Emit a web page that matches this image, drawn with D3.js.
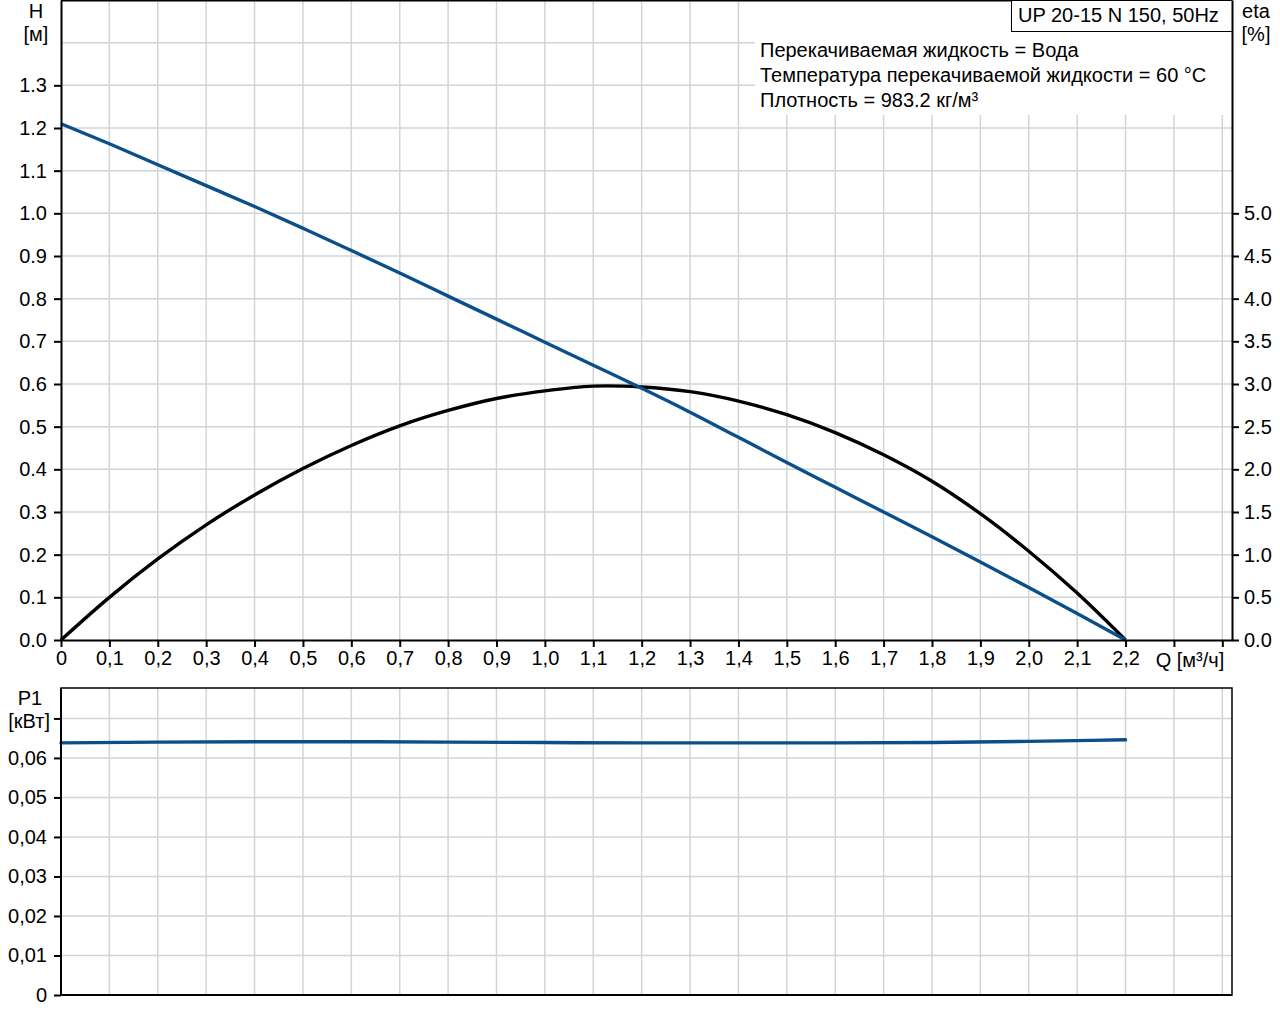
<!DOCTYPE html>
<html>
<head>
<meta charset="utf-8">
<script src="https://cdn.jsdelivr.net/npm/d3@7"></script>
<style>
  body { margin: 0; background: #fff; }
  text { font-family: "Liberation Sans", Arial, sans-serif; font-size: 20px; fill: #000; }
</style>
</head>
<body>
<div id="chart"></div>
<script>
'use strict'

// flow points, m3/h
const flow = [0, 0.1, 0.2, 0.3, 0.4, 0.5, 0.6, 0.7, 0.8, 0.9, 1.0, 1.1,
              1.2, 1.3, 1.4, 1.5, 1.6, 1.7, 1.8, 1.9, 2.0, 2.1, 2.2];
// head, m
const head = [1.21, 1.163, 1.114, 1.065, 1.016, 0.965, 0.913, 0.860, 0.806, 0.752, 0.698, 0.644,
              0.590, 0.534, 0.475, 0.416, 0.358, 0.300, 0.242, 0.183, 0.123, 0.062, 0];
// efficiency, %
const eta = [0, 0.50, 0.95, 1.35, 1.70, 2.01, 2.28, 2.51, 2.69, 2.83, 2.92, 2.975,
             2.965, 2.91, 2.80, 2.64, 2.43, 2.17, 1.86, 1.48, 1.04, 0.55, 0];
// power input, kW
const powerFlow = [0, 0.2, 0.4, 0.6, 0.8, 1.0, 1.2, 1.4, 1.6, 1.8, 2.0, 2.2];
const power = [0.0638, 0.0640, 0.0641, 0.0641, 0.0640, 0.0639, 0.0638, 0.0638, 0.0638, 0.0639, 0.0642, 0.0646];

const flowTicks = [0, 0.1, 0.2, 0.3, 0.4, 0.5, 0.6, 0.7, 0.8, 0.9, 1.0, 1.1, 1.2,
                   1.3, 1.4, 1.5, 1.6, 1.7, 1.8, 1.9, 2.0, 2.1, 2.2, 2.3, 2.4];
const headTicks = [0, 0.1, 0.2, 0.3, 0.4, 0.5, 0.6, 0.7, 0.8, 0.9, 1.0, 1.1, 1.2, 1.3];
const headGrid = [0.1, 0.2, 0.3, 0.4, 0.5, 0.6, 0.7, 0.8, 0.9, 1.0, 1.1, 1.2, 1.3, 1.4];
const etaTicks = [0, 0.5, 1.0, 1.5, 2.0, 2.5, 3.0, 3.5, 4.0, 4.5, 5.0];
const powerTicks = [0, 0.01, 0.02, 0.03, 0.04, 0.05, 0.06, 0.07];

const title = 'UP 20-15 N 150, 50Hz';
const infoLines = ['Перекачиваемая жидкость = Вода',
                   'Температура перекачиваемой жидкости = 60 °C',
                   'Плотность = 983.2 кг/м³'];

const blue = '#0b4f8a';
const gridColor = '#d2d4d6';

const svg = d3.select('#chart')
    .append('svg')
    .attr('width', 1280)
    .attr('height', 1024);

const x = d3.scaleLinear().domain([0, 2.42]).range([61, 1232]);
const yH = d3.scaleLinear().domain([0, 1.5]).range([640, 0]);
const yEta = d3.scaleLinear().domain([0, 7.5]).range([640, 0]);
const yP = d3.scaleLinear().domain([0, 0.0777]).range([995, 688]);

const comma = (f) => (d) => d === 0 ? '0' : d3.format(f)(d).replace('.', ',');

// ---- upper chart grid
const upper = svg.append('g');
upper.selectAll('.vgrid')
    .data(flowTicks.filter(d => d > 0))
    .enter().append('line')
    .attr('x1', d => x(d)).attr('x2', d => x(d))
    .attr('y1', 0).attr('y2', 640)
    .style('stroke', gridColor).style('stroke-width', 1.5);
upper.selectAll('.hgrid')
    .data(headGrid)
    .enter().append('line')
    .attr('x1', 61).attr('x2', 1232)
    .attr('y1', d => yH(d)).attr('y2', d => yH(d))
    .style('stroke', gridColor).style('stroke-width', 1.5);

// info area covers the grid
upper.append('rect')
    .attr('x', 755).attr('y', 1).attr('width', 477).attr('height', 114)
    .style('fill', '#fff');
upper.selectAll('.info')
    .data(infoLines)
    .enter().append('text')
    .attr('x', 760)
    .attr('y', (d, i) => 57 + i * 25)
    .text(d => d);

// curves
const headLine = d3.line()
    .x((d, i) => x(flow[i]))
    .y(d => yH(d))
    .curve(d3.curveMonotoneX);
const etaLine = d3.line()
    .x((d, i) => x(flow[i]))
    .y(d => yEta(d))
    .curve(d3.curveCatmullRom);

upper.append('path')
    .attr('d', etaLine(eta))
    .style('fill', 'none').style('stroke', '#000').style('stroke-width', 3.4);
upper.append('path')
    .attr('d', headLine(head))
    .style('fill', 'none').style('stroke', blue).style('stroke-width', 3.4);

// axes
upper.append('g')
    .attr('transform', 'translate(61,0)')
    .call(d3.axisLeft(yH).tickValues(headTicks).tickFormat(d3.format('.1f'))
        .tickSize(7).tickSizeOuter(0).tickPadding(7));
upper.append('g')
    .attr('transform', 'translate(1232,0)')
    .call(d3.axisRight(yEta).tickValues(etaTicks).tickFormat(d3.format('.1f'))
        .tickSize(7).tickSizeOuter(0).tickPadding(5));
upper.append('g')
    .attr('transform', 'translate(0,640)')
    .call(d3.axisBottom(x).tickValues(flowTicks)
        .tickFormat(d => d > 2.21 ? '' : comma('.1f')(d))
        .tickSize(7).tickSizeOuter(0).tickPadding(4));

upper.append('line')
    .attr('x1', 61).attr('x2', 1232).attr('y1', 0.5).attr('y2', 0.5)
    .style('stroke', '#000').style('stroke-width', 2);

// title box
upper.append('rect')
    .attr('x', 1011.5).attr('y', 0.5).attr('width', 220.5).attr('height', 31)
    .style('fill', '#fff').style('stroke', '#000').style('stroke-width', 1);
upper.append('text')
    .attr('x', 1018).attr('y', 22)
    .text(title);

upper.append('text').attr('x', 36).attr('y', 18).attr('text-anchor', 'middle').text('H');
upper.append('text').attr('x', 36).attr('y', 41).attr('text-anchor', 'middle').text('[м]');
upper.append('text').attr('x', 1256).attr('y', 18).attr('text-anchor', 'middle').text('eta');
upper.append('text').attr('x', 1256).attr('y', 41).attr('text-anchor', 'middle').text('[%]');
upper.append('text').attr('x', 1190).attr('y', 667).attr('text-anchor', 'middle').text('Q [м³/ч]');

// ---- lower chart
const lower = svg.append('g');
lower.selectAll('.vgrid')
    .data(flowTicks.filter(d => d > 0))
    .enter().append('line')
    .attr('x1', d => x(d)).attr('x2', d => x(d))
    .attr('y1', 688).attr('y2', 995)
    .style('stroke', gridColor).style('stroke-width', 1.5);
lower.selectAll('.hgrid')
    .data(powerTicks.filter(d => d > 0))
    .enter().append('line')
    .attr('x1', 61).attr('x2', 1232)
    .attr('y1', d => yP(d)).attr('y2', d => yP(d))
    .style('stroke', gridColor).style('stroke-width', 1.5);

const powerLine = d3.line()
    .x((d, i) => x(powerFlow[i]))
    .y(d => yP(d))
    .curve(d3.curveMonotoneX);
lower.append('path')
    .attr('d', powerLine(power))
    .style('fill', 'none').style('stroke', blue).style('stroke-width', 3.4)
    .style('stroke-linecap', 'round');

lower.append('rect')
    .attr('x', 61).attr('y', 688).attr('width', 1171).attr('height', 307)
    .style('fill', 'none').style('stroke', '#000').style('stroke-width', 1.5);

const pAxis = lower.append('g')
    .attr('transform', 'translate(61,0)')
    .call(d3.axisLeft(yP).tickValues(powerTicks)
        .tickFormat(d => d > 0.065 ? '' : comma('.2f')(d))
        .tickSize(7).tickSizeOuter(0).tickPadding(7));
pAxis.select('.domain').remove();
lower.append('line')
    .attr('x1', 61).attr('x2', 61).attr('y1', 688).attr('y2', 996)
    .style('stroke', '#000').style('stroke-width', 2);
lower.append('line')
    .attr('x1', 60).attr('x2', 1232).attr('y1', 995).attr('y2', 995)
    .style('stroke', '#000').style('stroke-width', 2);

lower.append('text').attr('x', 30).attr('y', 705).attr('text-anchor', 'middle').text('P1');
lower.append('text').attr('x', 50).attr('y', 728).attr('text-anchor', 'end').text('[кВт]');

// axis styling
svg.selectAll('.tick text').style('font-size', '20px').style('font-family', '"Liberation Sans", Arial, sans-serif');
svg.selectAll('.tick line').style('stroke', '#000').style('stroke-width', 2);
svg.selectAll('.domain').style('stroke', '#000').style('stroke-width', 2);
</script>
</body>
</html>
